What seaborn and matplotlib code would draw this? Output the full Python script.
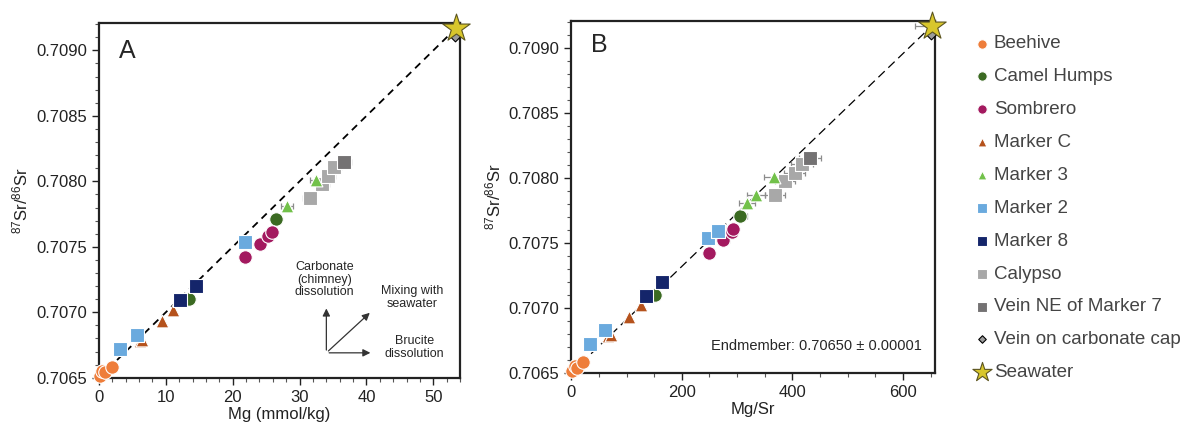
import numpy as np
import pandas as pd
import seaborn as sns
import matplotlib.pyplot as plt
from matplotlib.ticker import MultipleLocator


# values (Mg in mmol/kg, Mg/Sr molar, 87Sr/86Sr)
beehive_mg = [0.1, 0.5, 0.9, 2.0]
beehive_mgsr = [1, 6, 10, 22]
beehive_sr = [0.70651, 0.70655, 0.70654, 0.70658]

camel_mg = [13.5, 26.5]
camel_mgsr = [152, 306]
camel_sr = [0.70710, 0.70771]
camel_err_b = [6, 12]

sombrero_mg = [21.8, 24.1, 25.3, 25.8]
sombrero_mgsr = [250, 275, 290, 292]
sombrero_sr = [0.70742, 0.70752, 0.70758, 0.70761]
sombrero_err_b = [9, 10, 10, 10]

markerc_mg = [6.1, 6.5, 9.4, 11.1]
markerc_mgsr = [66, 71, 104, 127]
markerc_sr = [0.70678, 0.70679, 0.70693, 0.70702]

marker3_mg = [28.1, np.nan, 32.5]
marker3_mgsr = [318, 334, 366]
marker3_sr = [0.70781, 0.70787, 0.70801]
marker3_err_a = [0.9, 0, 0.9]
marker3_err_b = [15, 16, 17]

marker2_mg = [3.1, 5.7, 21.8, np.nan]
marker2_mgsr = [33, 61, 248, 266]
marker2_sr = [0.70672, 0.70683, 0.70754, 0.70759]

marker8_mg = [12.1, 14.5]
marker8_mgsr = [135, 165]
marker8_sr = [0.70709, 0.70720]

calypso_mg = [31.5, 33.4, 34.3, 35.2]
calypso_mgsr = [369, 386, 404, 417]
calypso_sr = [0.70787, 0.70798, 0.70804, 0.70811]
calypso_err_a = [1.0, 1.0, 1.0, 1.0]
calypso_err_b = [18, 18, 19, 20]

veinne_mg = [36.7]
veinne_mgsr = [432]
veinne_sr = [0.70815]
veinne_err_a = [1.0]
veinne_err_b = [20]

veincap_mg = [53.3]
veincap_mgsr = [650]
veincap_sr = [0.70911]

seawater_mg = [53.4]
seawater_mgsr = [652]
seawater_sr = [0.70917]
seawater_err_b = [30]

endmember_sr = 0.70650

# name, Mg, Mg/Sr, Sr ratio, marker, colour, size, zorder
series = [
    ('Beehive', beehive_mg, beehive_mgsr, beehive_sr, 'o', '#ee7d3a', 95, 3),
    ('Camel Humps', camel_mg, camel_mgsr, camel_sr, 'o', '#3b6a22', 95, 3),
    ('Sombrero', sombrero_mg, sombrero_mgsr, sombrero_sr, 'o', '#a3195f', 95, 3),
    ('Marker C', markerc_mg, markerc_mgsr, markerc_sr, '^', '#b5521c', 85, 3),
    ('Marker 3', marker3_mg, marker3_mgsr, marker3_sr, '^', '#72c14a', 85, 4),
    ('Marker 2', marker2_mg, marker2_mgsr, marker2_sr, 's', '#6aaade', 100, 3),
    ('Marker 8', marker8_mg, marker8_mgsr, marker8_sr, 's', '#14256a', 100, 3),
    ('Calypso', calypso_mg, calypso_mgsr, calypso_sr, 's', '#a8a8a8', 100, 3),
    ('Vein NE of Marker 7', veinne_mg, veinne_mgsr, veinne_sr, 's', '#747273', 100, 3),
    ('Vein on carbonate cap', veincap_mg, veincap_mgsr, veincap_sr, 'D', '#9c9c9c', 30, 3),
    ('Seawater', seawater_mg, seawater_mgsr, seawater_sr, '*', '#d8c62c', 430, 5),
]

errors_a = [(marker3_mg, marker3_sr, marker3_err_a),
            (calypso_mg, calypso_sr, calypso_err_a),
            (veinne_mg, veinne_sr, veinne_err_a)]
errors_b = [(camel_mgsr, camel_sr, camel_err_b),
            (sombrero_mgsr, sombrero_sr, sombrero_err_b),
            (marker3_mgsr, marker3_sr, marker3_err_b),
            (calypso_mgsr, calypso_sr, calypso_err_b),
            (veinne_mgsr, veinne_sr, veinne_err_b),
            (seawater_mgsr, seawater_sr, seawater_err_b)]

sns.set_style('ticks')
plt.rcParams['font.family'] = ['Liberation Sans', 'DejaVu Sans']
plt.rcParams['mathtext.default'] = 'regular'

fig = plt.figure(figsize=(11.84, 4.28), dpi=100)
ax_a = fig.add_axes([0.0836, 0.1175, 0.3050, 0.8290])
ax_b = fig.add_axes([0.4825, 0.1290, 0.3072, 0.8225])

# xi picks the x column of each series tuple: 1 = Mg, 2 = Mg/Sr
panels = [(ax_a, 1, errors_a, 54, 10, 2, 'Mg (mmol/kg)', (4, 3), 1.3),
          (ax_b, 2, errors_b, 658, 200, 50, 'Mg/Sr', (7, 4), 0.9)]

for ax, xi, errs, xmax, xmaj, xmin, xlabel, dash, lw in panels:
    # mixing line between the endmember and seawater
    ax.plot([0, series[-1][xi][0]], [endmember_sr, seawater_sr[0]],
            color='black', lw=lw, dashes=dash, zorder=1)

    for xs, ys, es in errs:
        ax.errorbar(xs, ys, xerr=es, fmt='none', ecolor='#8c8c8c',
                    elinewidth=0.9, capsize=2.5, capthick=0.9, zorder=2)

    for s in series:
        name, marker, color, size, zo = s[0], s[4], s[5], s[6], s[7]
        df = pd.DataFrame({'x': s[xi], 'y': s[3]}).dropna()
        edge = 'white'
        if marker == 'D':
            edge = 'black'
        elif marker == '*':
            edge = '#5c5520'
        sns.scatterplot(data=df, x='x', y='y', ax=ax, marker=marker, color=color,
                        s=size, edgecolor=edge, linewidth=0.8, label=name,
                        legend=False, zorder=zo, clip_on=False)

    ax.set_xlim(0, xmax)
    ax.set_ylim(0.7065, 0.70921)
    ax.xaxis.set_major_locator(MultipleLocator(xmaj))
    ax.xaxis.set_minor_locator(MultipleLocator(xmin))
    ax.yaxis.set_major_locator(MultipleLocator(0.0005))
    ax.yaxis.set_minor_locator(MultipleLocator(0.0001))
    ax.yaxis.set_major_formatter(plt.FormatStrFormatter('%.4f'))
    ax.tick_params(which='major', direction='out', length=5, width=1,
                   labelsize=12, colors='#222222')
    ax.tick_params(which='minor', direction='out', length=3, width=0.8,
                   colors='#555555')
    for sp in ax.spines.values():
        sp.set_linewidth(1.6)
        sp.set_color('#222222')
    ax.set_xlabel(xlabel, fontsize=12, color='#222222', labelpad=2)
    ax.set_ylabel('$^{87}$Sr/$^{86}$Sr', fontsize=12, color='#222222', labelpad=4)

ax_a.text(0.055, 0.955, 'A', transform=ax_a.transAxes, fontsize=18, va='top')
ax_b.text(0.055, 0.965, 'B', transform=ax_b.transAxes, fontsize=18, va='top')

# process arrows in panel A
arrow_kw = dict(arrowstyle='-|>', color='#333333', lw=0.9, mutation_scale=11)
origin = (34.0, 0.70669)
ax_a.annotate('', xy=(34.0, 0.70705), xytext=origin, arrowprops=arrow_kw)
ax_a.annotate('', xy=(41.0, 0.70669), xytext=origin, arrowprops=arrow_kw)
ax_a.annotate('', xy=(40.8, 0.70701), xytext=origin, arrowprops=arrow_kw)
ax_a.text(33.7, 0.70725, 'Carbonate\n(chimney)\ndissolution', fontsize=9,
          ha='center', va='center', linespacing=1.1)
ax_a.text(46.8, 0.70711, 'Mixing with\nseawater', fontsize=9,
          ha='center', va='center', linespacing=1.1)
ax_a.text(47.2, 0.70673, 'Brucite\ndissolution', fontsize=9,
          ha='center', va='center', linespacing=1.1)

ax_b.text(0.965, 0.075, 'Endmember: 0.70650 \u00b1 0.00001', transform=ax_b.transAxes,
          fontsize=10.5, ha='right', va='center')

handles, labels = ax_b.get_legend_handles_labels()
leg = fig.legend(handles, labels, loc='upper left', bbox_to_anchor=(0.818, 0.935),
                 frameon=False, fontsize=13.5, markerscale=0.7, handlelength=0.6,
                 handletextpad=0.35, labelspacing=0.84, borderaxespad=0)
for t in leg.get_texts():
    t.set_color('#444444')

fig.savefig('out.png', dpi=100)
